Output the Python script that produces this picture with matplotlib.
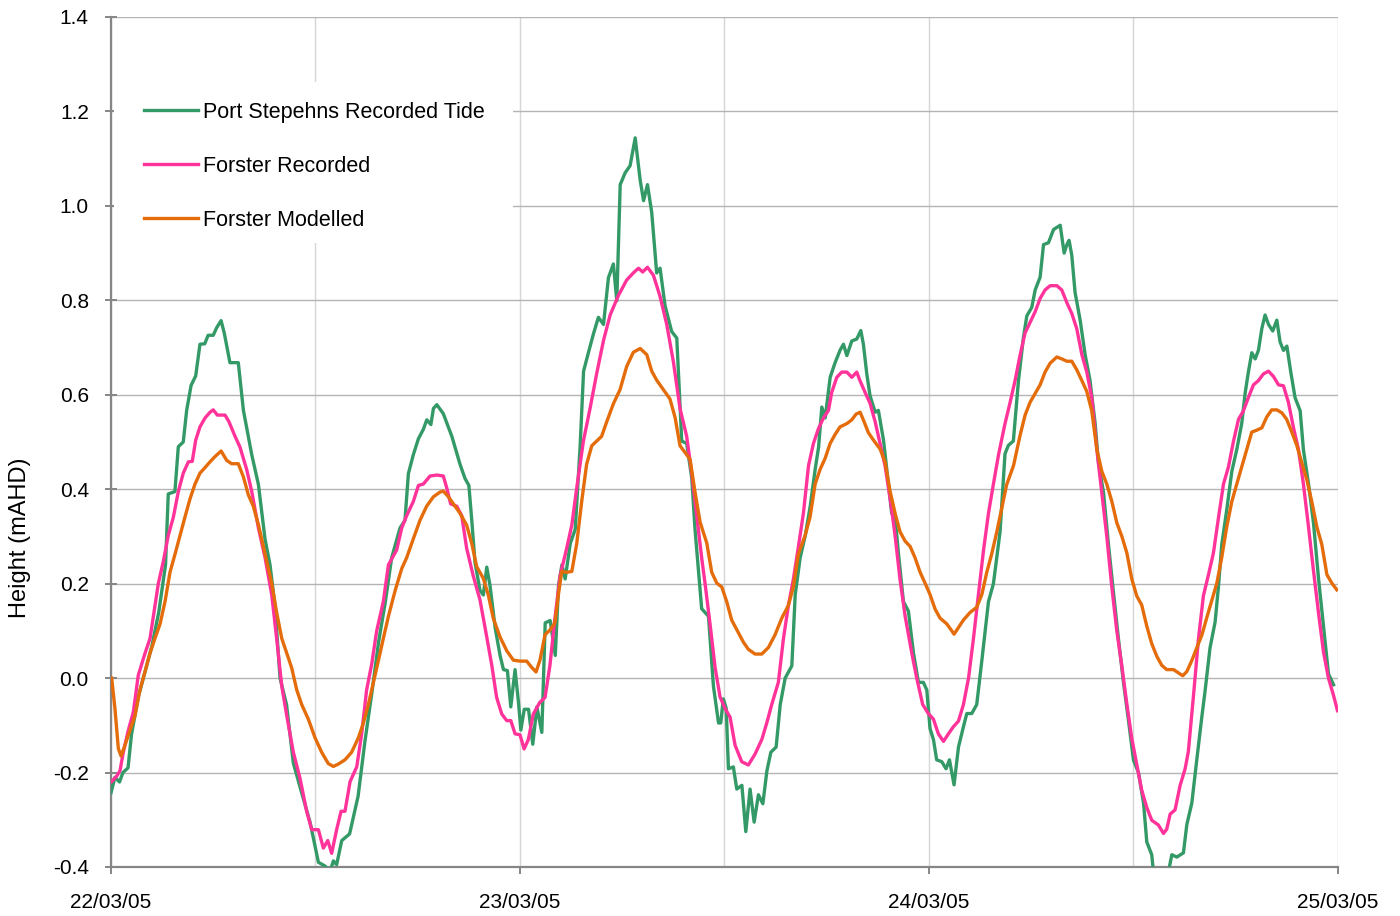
import matplotlib
matplotlib.use("Agg")
import matplotlib.pyplot as plt
from matplotlib.patches import Rectangle
from matplotlib.ticker import FixedLocator, MultipleLocator

plt.rcParams["font.family"] = ["Liberation Sans", "DejaVu Sans"]

# hours after 22/03/05 00:00 and water level (mAHD)
port_hours = [0, 0.23, 0.5, 0.7, 1.0, 1.2, 1.6, 2.0, 2.4, 2.8, 3.2, 3.36, 3.75, 3.95, 4.24, 4.44,
              4.7, 4.97, 5.22, 5.5, 5.7, 6.0, 6.2, 6.46, 6.65, 6.98, 7.47, 7.77, 8.26, 8.65, 9.04,
              9.33, 9.62, 9.92, 10.3, 10.7, 11.19, 11.68, 12.17, 12.56, 12.85, 13.05, 13.24, 13.54,
              14.0, 14.5, 14.9, 15.3, 15.7, 16.1, 16.47, 16.96, 17.25, 17.45, 17.74, 18.04, 18.33,
              18.53, 18.77, 18.92, 19.12, 19.5, 20.0, 20.48, 20.77, 21.0, 21.17, 21.36, 21.65, 21.85,
              22.05, 22.24, 22.54, 22.83, 23.03, 23.26, 23.46, 23.71, 23.91, 24.05, 24.25, 24.5,
              24.75, 24.99, 25.28, 25.48, 25.77, 26.07, 26.26, 26.46, 26.65, 26.95, 27.24, 27.53,
              27.73, 28.02, 28.31, 28.6, 28.9, 29.19, 29.48, 29.68, 29.88, 30.17, 30.46, 30.76,
              31.05, 31.25, 31.48, 31.73, 32.02, 32.22, 32.51, 32.9, 33.2, 33.49, 33.78, 34.08,
              34.27, 34.66, 35.06, 35.35, 35.65, 35.78, 35.93, 36.1, 36.23, 36.52, 36.72, 37.02,
              37.25, 37.5, 37.74, 37.99, 38.25, 38.49, 38.72, 39.03, 39.27, 39.56, 39.95, 40.15,
              40.44, 40.74, 41.03, 41.32, 41.52, 41.71, 41.91, 42.2, 42.49, 42.79, 42.98, 43.18,
              43.47, 43.76, 44.0, 44.15, 44.35, 44.54, 44.84, 45.03, 45.33, 45.62, 45.81, 46.01,
              46.21, 46.5, 46.79, 47.09, 47.38, 47.67, 47.87, 48.06, 48.26, 48.45, 48.75, 49.0,
              49.2, 49.47, 49.73, 50.02, 50.22, 50.51, 50.8, 51.1, 51.49, 51.78, 52.17, 52.46,
              52.66, 52.95, 53.25, 53.54, 53.74, 54.03, 54.23, 54.52, 54.72, 55.01, 55.31, 55.7,
              55.93, 56.09, 56.22, 56.38, 56.57, 56.87, 57.16, 57.45, 57.75, 57.94, 58.24, 58.53,
              58.82, 59.12, 59.41, 59.71, 60.0, 60.29, 60.59, 60.78, 61.07, 61.17, 61.4, 61.85,
              62.05, 62.25, 62.54, 62.93, 63.13, 63.42, 63.71, 64.01, 64.2, 64.49, 64.79, 64.98,
              65.18, 65.47, 65.77, 66.06, 66.35, 66.55, 66.74, 66.94, 67.14, 67.33, 67.53, 67.72,
              67.92, 68.17, 68.41, 68.6, 68.8, 69.0, 69.23, 69.48, 69.78, 69.97, 70.27, 70.56,
              70.86, 71.15, 71.44, 71.74]
port_level = [-0.243, -0.21, -0.22, -0.2, -0.19, -0.12, -0.04, 0.014, 0.068, 0.139, 0.24, 0.39,
              0.395, 0.49, 0.5, 0.567, 0.62, 0.64, 0.707, 0.708, 0.726, 0.726, 0.742, 0.757, 0.73,
              0.668, 0.668, 0.567, 0.473, 0.41, 0.294, 0.24, 0.154, 0.0, -0.056, -0.18, -0.243,
              -0.305, -0.39, -0.398, -0.41, -0.387, -0.395, -0.344, -0.33, -0.25, -0.134, -0.033,
              0.076, 0.162, 0.255, 0.318, 0.334, 0.433, 0.473, 0.507, 0.527, 0.547, 0.537, 0.571,
              0.579, 0.56, 0.512, 0.453, 0.423, 0.408, 0.334, 0.245, 0.186, 0.176, 0.235, 0.196,
              0.107, 0.048, 0.018, 0.016, -0.061, 0.018, -0.051, -0.11, -0.066, -0.066, -0.14,
              -0.061, -0.115, 0.117, 0.122, 0.048, 0.196, 0.24, 0.21, 0.285, 0.315, 0.492, 0.65,
              0.69, 0.729, 0.764, 0.749, 0.848, 0.877, 0.799, 1.045, 1.07, 1.085, 1.144, 1.055,
              1.011, 1.045, 0.986, 0.858, 0.868, 0.789, 0.734, 0.72, 0.502, 0.497, 0.423, 0.315,
              0.147, 0.131, -0.017, -0.095, -0.095, -0.044, -0.064, -0.192, -0.188, -0.235, -0.227,
              -0.325, -0.235, -0.305, -0.247, -0.266, -0.196, -0.157, -0.146, -0.056, 0.0, 0.026,
              0.177, 0.255, 0.302, 0.364, 0.442, 0.489, 0.574, 0.551, 0.637, 0.668, 0.695, 0.707,
              0.683, 0.714, 0.718, 0.736, 0.707, 0.644, 0.598, 0.563, 0.567, 0.504, 0.411, 0.349,
              0.341, 0.263, 0.162, 0.142, 0.053, -0.009, -0.009, -0.025, -0.107, -0.13, -0.173,
              -0.177, -0.192, -0.173, -0.226, -0.146, -0.103, -0.075, -0.075, -0.056, 0.037, 0.162,
              0.2, 0.31, 0.475, 0.493, 0.502, 0.63, 0.721, 0.767, 0.785, 0.822, 0.849, 0.918, 0.922,
              0.95, 0.959, 0.9, 0.918, 0.927, 0.895, 0.817, 0.758, 0.685, 0.63, 0.539, 0.457, 0.393,
              0.283, 0.183, 0.082, -0.009, -0.091, -0.174, -0.2, -0.265, -0.347, -0.374, -0.41,
              -0.45, -0.45, -0.41, -0.374, -0.379, -0.37, -0.31, -0.265, -0.174, -0.082, -0.027,
              0.064, 0.119, 0.192, 0.283, 0.356, 0.438, 0.484, 0.539, 0.603, 0.648, 0.689, 0.676,
              0.694, 0.74, 0.769, 0.749, 0.735, 0.758, 0.712, 0.694, 0.703, 0.648, 0.594, 0.566,
              0.484, 0.411, 0.329, 0.21, 0.11, 0.009, -0.014]

forster_hours = [0.04, 0.33, 0.53, 0.72, 1.02, 1.31, 1.6, 2.0, 2.29, 2.58, 2.78, 3.07, 3.36, 3.66,
                 3.95, 4.24, 4.54, 4.77, 4.97, 5.22, 5.52, 5.81, 6.0, 6.24, 6.69, 6.92, 7.28, 7.57,
                 7.96, 8.26, 8.65, 9.04, 9.43, 9.72, 10.02, 10.31, 10.7, 11.09, 11.48, 11.78, 12.17,
                 12.46, 12.72, 12.95, 13.24, 13.5, 13.73, 14.03, 14.42, 14.71, 15.0, 15.3, 15.59,
                 15.98, 16.28, 16.51, 16.76, 17.06, 17.35, 17.74, 18.04, 18.33, 18.72, 19.12, 19.5,
                 19.7, 19.93, 20.29, 20.58, 20.87, 21.26, 21.65, 22.05, 22.34, 22.63, 22.93, 23.22,
                 23.46, 23.71, 24.0, 24.24, 24.49, 24.78, 25.17, 25.47, 25.76, 26.05, 26.35, 26.74,
                 27.04, 27.33, 27.72, 28.11, 28.5, 28.9, 29.29, 29.77, 30.26, 30.65, 30.95, 31.2,
                 31.48, 31.83, 32.22, 32.61, 33.0, 33.39, 33.78, 34.08, 34.37, 34.66, 34.86, 35.15,
                 35.45, 35.74, 36.03, 36.33, 36.62, 37.01, 37.4, 37.79, 38.19, 38.48, 38.77, 39.16,
                 39.46, 39.75, 40.04, 40.34, 40.63, 40.93, 41.22, 41.51, 41.81, 42.1, 42.29, 42.59,
                 42.88, 43.18, 43.47, 43.76, 43.96, 44.25, 44.54, 44.84, 45.13, 45.42, 45.72, 46.01,
                 46.3, 46.6, 46.99, 47.28, 47.63, 47.96, 48.26, 48.55, 48.85, 49.14, 49.43, 49.73,
                 50.02, 50.32, 50.61, 50.9, 51.2, 51.49, 51.78, 52.08, 52.46, 52.76, 53.05, 53.35,
                 53.64, 53.93, 54.23, 54.52, 54.81, 55.11, 55.5, 55.79, 56.09, 56.38, 56.67, 56.97,
                 57.26, 57.55, 57.85, 58.14, 58.43, 58.73, 59.02, 59.31, 59.61, 59.9, 60.19, 60.48,
                 60.78, 61.07, 61.27, 61.46, 61.76, 61.95, 62.15, 62.44, 62.73, 63.03, 63.22, 63.52,
                 63.81, 64.1, 64.4, 64.69, 64.98, 65.28, 65.57, 65.87, 66.16, 66.45, 66.74, 67.04,
                 67.33, 67.62, 67.92, 68.21, 68.51, 68.8, 69.09, 69.39, 69.68, 69.97, 70.27, 70.56,
                 70.86, 71.15, 71.44, 71.74, 71.97]
forster_level = [-0.219, -0.208, -0.196, -0.157, -0.11, -0.072, 0.006, 0.053, 0.084, 0.154, 0.201,
                 0.247, 0.302, 0.341, 0.395, 0.434, 0.458, 0.459, 0.504, 0.532, 0.551, 0.563, 0.568,
                 0.557, 0.557, 0.543, 0.512, 0.489, 0.442, 0.395, 0.318, 0.255, 0.177, 0.084, -0.017,
                 -0.079, -0.157, -0.212, -0.282, -0.321, -0.321, -0.36, -0.344, -0.371, -0.321,
                 -0.282, -0.282, -0.219, -0.188, -0.118, -0.025, 0.03, 0.1, 0.162, 0.24, 0.255, 0.271,
                 0.318, 0.344, 0.374, 0.408, 0.411, 0.428, 0.43, 0.428, 0.403, 0.369, 0.364, 0.344,
                 0.275, 0.216, 0.166, 0.087, 0.028, -0.041, -0.076, -0.09, -0.09, -0.118, -0.12,
                 -0.15, -0.13, -0.076, -0.051, -0.041, 0.028, 0.127, 0.216, 0.275, 0.324, 0.403, 0.502,
                 0.571, 0.645, 0.715, 0.769, 0.81, 0.843, 0.858, 0.868, 0.86, 0.87, 0.853, 0.808,
                 0.749, 0.67, 0.571, 0.512, 0.433, 0.344, 0.255, 0.2, 0.115, 0.022, -0.04, -0.064,
                 -0.083, -0.142, -0.177, -0.184, -0.161, -0.13, -0.095, -0.056, -0.009, 0.084, 0.154,
                 0.209, 0.279, 0.349, 0.45, 0.497, 0.528, 0.551, 0.567, 0.605, 0.637, 0.648, 0.648,
                 0.637, 0.648, 0.629, 0.605, 0.582, 0.543, 0.497, 0.45, 0.38, 0.302, 0.209, 0.131,
                 0.053, 0.0, -0.056, -0.075, -0.087, -0.118, -0.134, -0.118, -0.103, -0.091, -0.056,
                 0.0, 0.084, 0.177, 0.271, 0.349, 0.411, 0.473, 0.539, 0.584, 0.63, 0.685, 0.731,
                 0.753, 0.776, 0.804, 0.822, 0.831, 0.831, 0.822, 0.795, 0.772, 0.74, 0.685, 0.648,
                 0.594, 0.484, 0.393, 0.301, 0.192, 0.1, 0.027, -0.055, -0.128, -0.183, -0.237,
                 -0.274, -0.301, -0.306, -0.311, -0.329, -0.32, -0.288, -0.279, -0.228, -0.192,
                 -0.155, -0.037, 0.082, 0.174, 0.219, 0.265, 0.338, 0.411, 0.447, 0.502, 0.548, 0.566,
                 0.594, 0.621, 0.63, 0.644, 0.65, 0.639, 0.621, 0.619, 0.584, 0.53, 0.484, 0.411,
                 0.32, 0.228, 0.137, 0.055, 0.0, -0.037, -0.069]

model_hours = [0.04, 0.23, 0.43, 0.59, 0.82, 1.12, 1.41, 1.7, 2.0, 2.29, 2.58, 2.88, 3.17, 3.46,
               3.76, 4.05, 4.34, 4.64, 4.93, 5.22, 5.52, 5.81, 6.1, 6.46, 6.79, 7.08, 7.47, 7.77,
               8.06, 8.35, 8.65, 9.04, 9.43, 9.72, 10.02, 10.31, 10.6, 10.9, 11.19, 11.58, 11.97,
               12.36, 12.75, 13.05, 13.34, 13.73, 14.12, 14.52, 14.81, 15.1, 15.4, 15.69, 15.98,
               16.28, 16.67, 17.06, 17.35, 17.74, 18.13, 18.52, 18.92, 19.31, 19.5, 19.8, 20.09,
               20.48, 20.87, 21.17, 21.46, 21.85, 22.14, 22.43, 22.83, 23.22, 23.61, 24.0, 24.39,
               24.68, 24.94, 25.17, 25.47, 25.76, 26.05, 26.25, 26.45, 26.74, 27.04, 27.33, 27.62,
               27.91, 28.21, 28.5, 28.79, 29.08, 29.48, 29.87, 30.26, 30.65, 31.05, 31.44, 31.73,
               32.02, 32.41, 32.8, 33.1, 33.39, 33.68, 33.98, 34.27, 34.57, 34.96, 35.25, 35.55,
               35.84, 36.13, 36.42, 36.82, 37.11, 37.4, 37.79, 38.19, 38.58, 38.97, 39.36, 39.75,
               40.04, 40.34, 40.73, 41.02, 41.32, 41.61, 41.9, 42.2, 42.49, 42.78, 43.18, 43.47,
               43.72, 43.96, 44.19, 44.44, 44.74, 45.13, 45.42, 45.72, 46.01, 46.3, 46.6, 46.89,
               47.18, 47.48, 47.77, 48.06, 48.36, 48.65, 49.04, 49.34, 49.47, 49.73, 50.02, 50.41,
               50.8, 51.1, 51.39, 51.68, 51.98, 52.27, 52.56, 52.96, 53.35, 53.64, 53.93, 54.23,
               54.52, 54.81, 55.11, 55.5, 55.79, 56.09, 56.38, 56.67, 56.97, 57.26, 57.55, 57.85,
               58.14, 58.43, 58.73, 59.02, 59.31, 59.61, 59.9, 60.19, 60.48, 60.78, 61.07, 61.37,
               61.66, 61.95, 62.35, 62.64, 62.89, 63.13, 63.42, 63.71, 64.01, 64.3, 64.59, 64.89,
               65.18, 65.47, 65.77, 66.06, 66.35, 66.65, 66.94, 67.23, 67.53, 67.82, 68.11, 68.41,
               68.7, 68.99, 69.29, 69.58, 69.87, 70.17, 70.46, 70.76, 71.05, 71.35, 71.64, 71.93]
model_level = [0.0, -0.064, -0.149, -0.165, -0.142, -0.11, -0.079, -0.025, 0.014, 0.053, 0.084,
               0.115, 0.162, 0.224, 0.263, 0.302, 0.341, 0.38, 0.411, 0.434, 0.446, 0.458, 0.469,
               0.481, 0.461, 0.454, 0.454, 0.426, 0.388, 0.364, 0.325, 0.263, 0.201, 0.139, 0.084,
               0.053, 0.022, -0.025, -0.056, -0.087, -0.126, -0.157, -0.181, -0.187, -0.182, -0.173,
               -0.157, -0.126, -0.095, -0.056, -0.009, 0.037, 0.084, 0.131, 0.185, 0.232, 0.255,
               0.295, 0.334, 0.364, 0.384, 0.394, 0.396, 0.384, 0.369, 0.349, 0.324, 0.285, 0.236,
               0.211, 0.176, 0.127, 0.087, 0.058, 0.038, 0.036, 0.036, 0.023, 0.013, 0.038, 0.092,
               0.102, 0.117, 0.176, 0.226, 0.224, 0.226, 0.285, 0.374, 0.453, 0.492, 0.502, 0.512,
               0.542, 0.581, 0.611, 0.66, 0.69, 0.698, 0.685, 0.65, 0.631, 0.611, 0.591, 0.552,
               0.492, 0.478, 0.463, 0.394, 0.33, 0.286, 0.224, 0.201, 0.193, 0.162, 0.123, 0.096,
               0.076, 0.061, 0.051, 0.051, 0.065, 0.092, 0.127, 0.154, 0.193, 0.263, 0.302, 0.341,
               0.411, 0.442, 0.465, 0.497, 0.516, 0.532, 0.539, 0.547, 0.559, 0.563, 0.543, 0.52,
               0.504, 0.485, 0.458, 0.395, 0.349, 0.31, 0.29, 0.279, 0.255, 0.224, 0.201, 0.177,
               0.146, 0.127, 0.115, 0.1, 0.093, 0.107, 0.123, 0.139, 0.15, 0.177, 0.224, 0.263,
               0.31, 0.36, 0.41, 0.45, 0.515, 0.557, 0.584, 0.603, 0.621, 0.648, 0.667, 0.68, 0.676,
               0.671, 0.671, 0.653, 0.63, 0.607, 0.566, 0.484, 0.438, 0.411, 0.374, 0.329, 0.301,
               0.265, 0.21, 0.174, 0.155, 0.11, 0.073, 0.046, 0.027, 0.018, 0.018, 0.011, 0.005,
               0.014, 0.037, 0.064, 0.091, 0.128, 0.164, 0.201, 0.256, 0.32, 0.374, 0.411, 0.447,
               0.484, 0.521, 0.525, 0.53, 0.553, 0.568, 0.568, 0.562, 0.548, 0.521, 0.493, 0.457,
               0.42, 0.374, 0.32, 0.283, 0.219, 0.201, 0.187]

day_ticks = [0, 24, 48, 72]
day_labels = ["22/03/05", "23/03/05", "24/03/05", "25/03/05"]

fig = plt.figure(figsize=(14, 9.16), dpi=100)
fig.patch.set_facecolor("white")
ax = fig.add_axes([111 / 1400, 49 / 916, 1227 / 1400, 850 / 916])

ax.plot(port_hours, port_level, color="#339966", lw=2.4, label="Port Stepehns Recorded Tide", zorder=3)
ax.plot(forster_hours, forster_level, color="#FF3399", lw=2.4, label="Forster Recorded", zorder=3)
ax.plot(model_hours, model_level, color="#E46C0A", lw=2.4, label="Forster Modelled", zorder=3)

ax.set_xlim(0, 72)
ax.set_ylim(-0.4, 1.4)
ax.xaxis.set_major_locator(FixedLocator(day_ticks))
ax.set_xticklabels(day_labels)
ax.xaxis.set_minor_locator(MultipleLocator(12))
ax.yaxis.set_major_locator(MultipleLocator(0.2))
ax.yaxis.set_major_formatter(plt.FuncFormatter(lambda v, p: f"{v:.1f}"))

ax.set_axisbelow(True)
ax.grid(axis="y", color="#b4b4b4", lw=1.0)
ax.grid(axis="x", which="both", color="#d6d6d6", lw=1.0)

for side in ("top", "right"):
    ax.spines[side].set_visible(False)
for side in ("left", "bottom"):
    ax.spines[side].set_color("#868686")
    ax.spines[side].set_linewidth(1.6)

ax.tick_params(axis="x", which="major", direction="out", length=5, width=1.4,
               color="#868686", labelsize=15, pad=14)
ax.tick_params(axis="x", which="minor", length=0)
ax.tick_params(axis="y", direction="inout", length=8, width=1.4,
               color="#868686", labelsize=15, pad=12)

fig.text(20 / 1400, 1 - 538 / 916, "Height (mAHD)", rotation=90,
         ha="center", va="center", fontsize=17)

# white legend area hiding the gridlines, as in the original
ax.add_patch(Rectangle((3 / 1227, 624 / 850), 399 / 1227, 161 / 850,
                       transform=ax.transAxes, facecolor="white", edgecolor="none", zorder=1))
ax.legend(loc="upper left", bbox_to_anchor=(33 / 1227, 0.900), frameon=False,
          fontsize=15.5, handlelength=2.5, handletextpad=0.25, labelspacing=1.53,
          borderpad=0, borderaxespad=0)

fig.savefig("out.png", dpi=100, facecolor="white")
